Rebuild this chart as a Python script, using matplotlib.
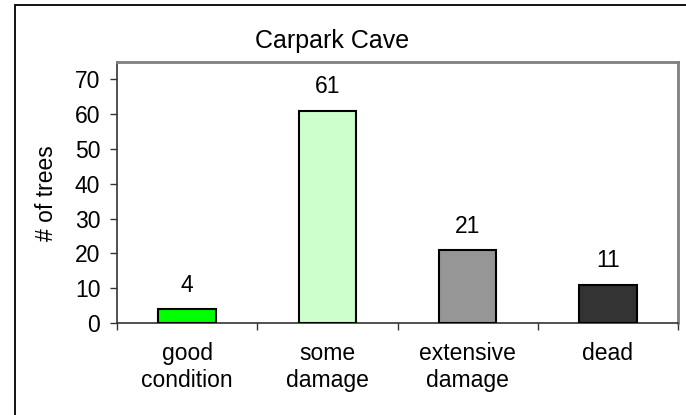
import matplotlib
matplotlib.use("Agg")
import matplotlib.pyplot as plt
from matplotlib.patches import Rectangle

categories = ["good\ncondition", "some\ndamage", "extensive\ndamage", "dead"]
values = [4, 61, 21, 11]
bar_colors = ["#00FF00", "#CCFFCC", "#969696", "#333333"]
y_ticks = [0, 10, 20, 30, 40, 50, 60, 70]
title = "Carpark Cave"
y_label = "# of trees"

plt.rcParams['font.family'] = ['Liberation Sans', 'DejaVu Sans']
W, H = 686, 415
FS = 16.5
fig = plt.figure(figsize=(W / 100, H / 100), dpi=100)

# outer chart frame (cropped at right/bottom)
fig.patches.append(Rectangle((15 / W, -0.05), 1.2, 1 - 5 / H + 0.05,
                             transform=fig.transFigure, fill=False,
                             edgecolor="black", linewidth=1.3, zorder=0))

left, right, top, bottom = 117, 678, 62, 323
ax = fig.add_axes([left / W, 1 - bottom / H, (right - left) / W, (bottom - top) / H])

x = list(range(len(values)))
ax.bar(x, values, width=0.41, color=bar_colors, edgecolor="black", linewidth=1.5, zorder=3)
for xi, v in zip(x, values):
    ax.annotate(str(v), (xi, v), xytext=(0, 12.5), textcoords="offset points",
                ha="center", va="baseline", fontsize=FS)

ax.set_xlim(-0.5, len(values) - 0.5)
ax.set_ylim(0, 75)
ax.set_yticks(y_ticks)
ax.set_xticks([i - 0.5 for i in range(len(values) + 1)])
ax.set_xticklabels([])
ax.set_xticks(x, minor=True)
ax.set_xticklabels(categories, minor=True, fontsize=FS, linespacing=1.22)
ax.tick_params(axis="x", which="minor", length=0, pad=14)
ax.tick_params(axis="x", which="major", length=5, width=1, color="#333333", direction="out")
ax.tick_params(axis="y", length=5, width=1, color="#333333", direction="out", labelsize=FS, pad=7)

for s in ["top", "right"]:
    ax.spines[s].set_color("#808080")
    ax.spines[s].set_linewidth(2)
for s in ["left", "bottom"]:
    ax.spines[s].set_color("#333333")
    ax.spines[s].set_linewidth(1.2)

fig.text(47 / W, 1 - 193 / H, y_label, rotation=90, ha="center", va="center", fontsize=FS)
fig.text(332 / W, 1 - 48 / H, title, ha="center", va="baseline", fontsize=18)

fig.savefig("out.png", dpi=100)
